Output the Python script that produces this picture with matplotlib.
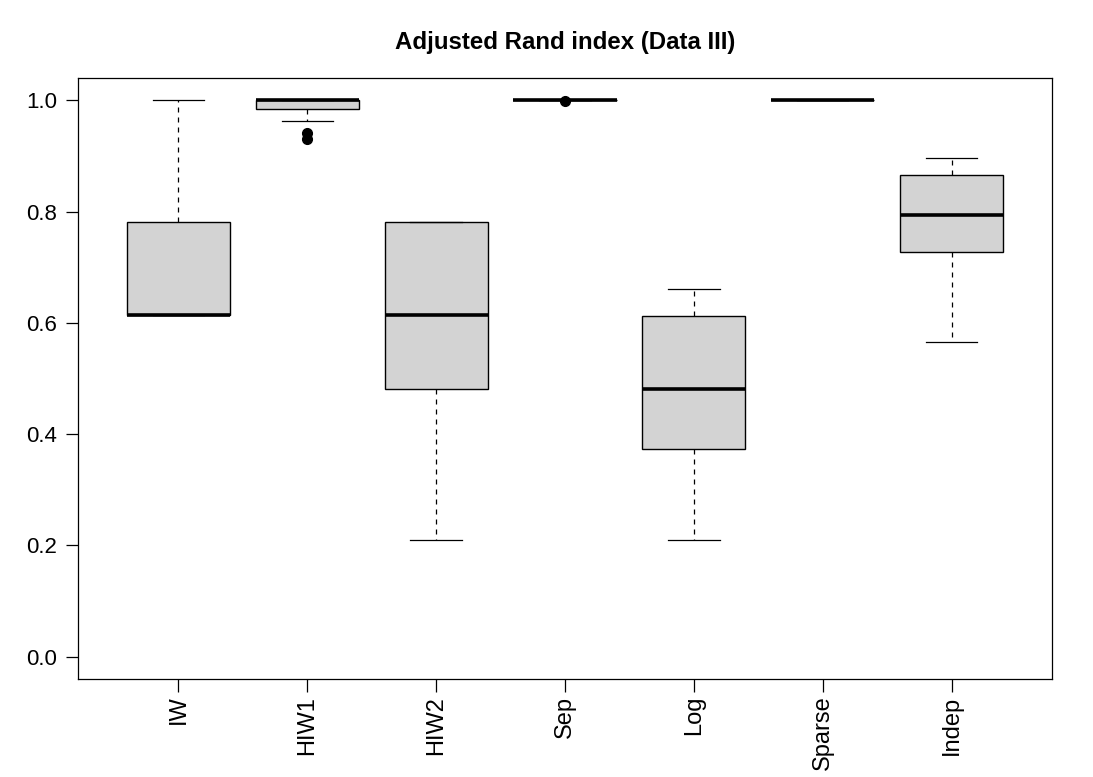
import matplotlib
matplotlib.use("Agg")
import matplotlib.pyplot as plt

# ---- data ----
categories = ["IW", "HIW1", "HIW2", "Sep", "Log", "Sparse", "Indep"]
whislo = [0.614, 0.962, 0.210, 1.000, 0.210, 1.000, 0.565]
q1     = [0.614, 0.984, 0.482, 1.000, 0.374, 1.000, 0.728]
med    = [0.614, 1.000, 0.614, 1.000, 0.482, 1.000, 0.793]
q3     = [0.781, 1.000, 0.781, 1.000, 0.613, 1.000, 0.865]
whishi = [1.000, 1.000, 0.781, 1.000, 0.660, 1.000, 0.896]
fliers = [[], [0.942, 0.930], [], [0.999], [], [], []]
yticks = [0.0, 0.2, 0.4, 0.6, 0.8, 1.0]
title = "Adjusted Rand index (Data III)"

plt.rcParams["font.family"] = ["Liberation Sans", "DejaVu Sans"]

W, H, DPI = 1093, 777, 100
fig = plt.figure(figsize=(W / DPI, H / DPI), dpi=DPI)
ax = fig.add_axes([78 / W, 1 - 679 / H, (1052 - 78) / W, (679 - 78) / H])

stats = []
for i, c in enumerate(categories):
    stats.append(dict(label=c, whislo=whislo[i], q1=q1[i], med=med[i],
                      q3=q3[i], whishi=whishi[i], fliers=fliers[i]))

positions = list(range(1, len(categories) + 1))
ax.bxp(stats, positions=positions, widths=0.8, patch_artist=True,
       showfliers=True,
       boxprops=dict(facecolor="#d3d3d3", edgecolor="black", linewidth=1.0),
       medianprops=dict(color="black", linewidth=2.6, solid_capstyle="butt"),
       whiskerprops=dict(color="black", linewidth=0.9, linestyle=(0, (4, 4))),
       capprops=dict(color="black", linewidth=0.9),
       capwidths=0.4,
       flierprops=dict(marker="o", markerfacecolor="black",
                       markeredgecolor="black", markersize=7))

n = len(categories)
ax.set_xlim(0.22, n + 0.78)
ax.set_ylim(-0.04, 1.04)
ax.set_yticks(yticks)
ax.set_yticklabels([f"{v:.1f}" for v in yticks])
ax.set_xticks(positions)
ax.set_xticklabels(categories, rotation=90)
ax.tick_params(axis="both", direction="out", length=9, width=0.9,
               colors="black")
ax.tick_params(axis="y", labelsize=16, pad=6)
ax.tick_params(axis="x", labelsize=17, pad=3)
for s in ax.spines.values():
    s.set_linewidth(0.9)

fig.text(0.5 * (78 + 1052) / W, 1 - 43 / H, title, ha="center", va="center",
         fontsize=17.3, fontweight="bold")

fig.savefig("out.png", dpi=DPI)
